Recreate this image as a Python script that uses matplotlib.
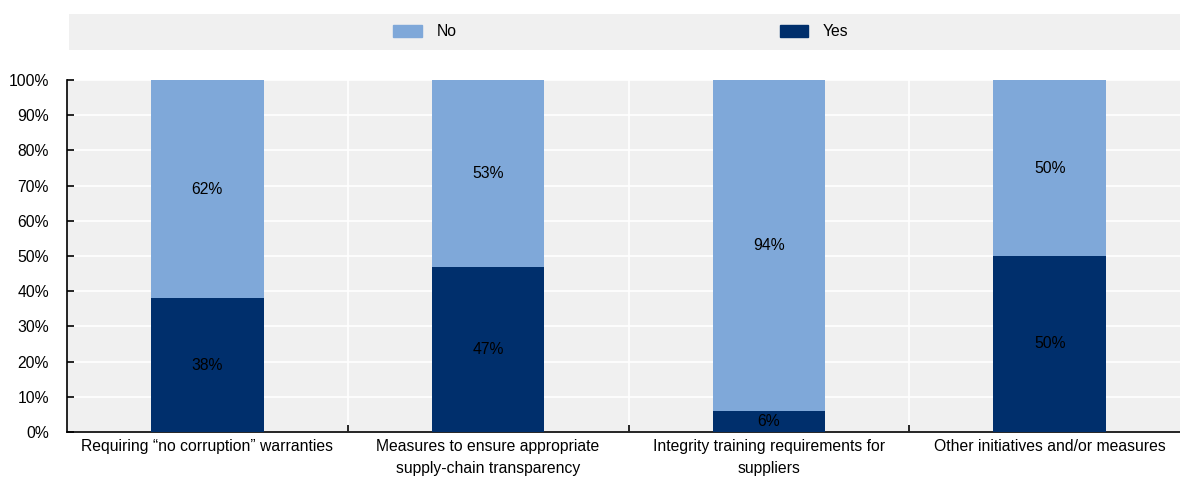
import matplotlib.pyplot as plt
import numpy as np
from matplotlib.patches import Patch, Rectangle

plt.rcParams["font.family"] = ["Liberation Sans", "DejaVu Sans"]
plt.rcParams["font.size"] = 11.3

categories = [
    "Requiring \u201cno corruption\u201d warranties",
    "Measures to ensure appropriate\nsupply-chain transparency",
    "Integrity training requirements for\nsuppliers",
    "Other initiatives and/or measures",
]
yes_pct = [38, 47, 6, 50]
no_pct = [62, 53, 94, 50]

YES_COLOR = "#002F6C"
NO_COLOR = "#7FA8D9"
BG = "#F0F0F0"

fig = plt.figure(figsize=(11.8, 4.8), dpi=100)
ax = fig.add_axes([67 / 1180, 1 - 432 / 480, 1123 / 1180, 352 / 480])
ax.set_facecolor(BG)

x = np.arange(len(categories))
width = 0.40
ax.bar(x, yes_pct, width, color=YES_COLOR, zorder=3)
ax.bar(x, no_pct, width, bottom=yes_pct, color=NO_COLOR, zorder=3)

for i in range(len(categories)):
    ax.text(x[i], yes_pct[i] / 2, f"{yes_pct[i]}%", ha="center", va="center",
            color="black", zorder=4)
    ax.text(x[i], yes_pct[i] + no_pct[i] / 2, f"{no_pct[i]}%", ha="center",
            va="center", color="black", zorder=4)

ax.set_xlim(-0.5, len(categories) - 0.5)
ax.set_ylim(0, 100)
ax.set_yticks(np.arange(0, 101, 10))
ax.set_yticklabels([f"{v}%" for v in range(0, 101, 10)])
ax.set_xticks(x)
ax.set_xticklabels(categories, linespacing=1.6, va="top")
ax.set_xticks(x[:-1] + 0.5, minor=True)

ax.tick_params(axis="x", which="major", length=0, pad=5)
ax.tick_params(axis="x", which="minor", direction="in", length=5, width=1.2)
ax.tick_params(axis="y", direction="in", length=5, width=1.2, pad=13)

ax.grid(axis="y", color="white", linewidth=1.2, zorder=1)
ax.grid(axis="x", which="minor", color="white", linewidth=1.2, zorder=1)
ax.grid(axis="x", which="major", visible=False)

for side in ["top", "right"]:
    ax.spines[side].set_visible(False)
ax.spines["left"].set_linewidth(1.2)
ax.spines["bottom"].set_linewidth(1.2)

# legend band across the top
fig.patches.append(Rectangle((69 / 1180, 1 - 50 / 480), 1111 / 1180, 36 / 480,
                             transform=fig.transFigure, facecolor=BG,
                             edgecolor="none", zorder=0))
handles = [Patch(color=NO_COLOR, label="No"), Patch(color=YES_COLOR, label="Yes")]
fig.legend(handles=handles, loc="center", bbox_to_anchor=(621 / 1180, 1 - 32 / 480),
           ncol=2, frameon=False, handlelength=1.8, handleheight=0.85,
           handletextpad=0.95, columnspacing=20.6)

fig.savefig("out.png", dpi=100)
